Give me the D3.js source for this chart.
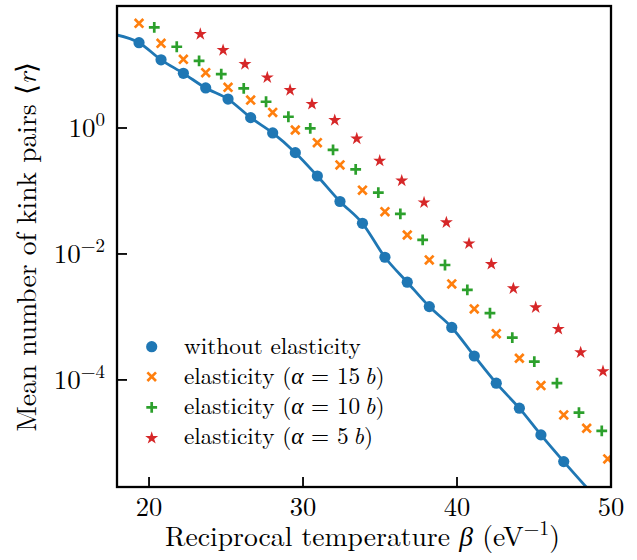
<!DOCTYPE html>
<html><head><meta charset="utf-8">
<script src="https://cdn.jsdelivr.net/npm/d3@7"></script>
<style>
html,body{margin:0;padding:0;background:#fff;}
</style></head>
<body><svg id="chart" width="637" height="560"></svg>
<script>
// ---------- data ----------
const betaA = [19.35,20.78,22.23,23.68,25.13,26.60,28.03,29.50,30.93,32.40,33.86,35.32,36.77,38.20,39.66,41.12,42.55,44.05,45.45,46.93];
const rNoElastic = [22.6,12.1,7.38,4.32,2.88,1.46,0.834,0.406,0.173,0.0681,0.0307,8.87e-3,3.56e-3,1.46e-3,6.81e-4,2.40e-4,8.87e-5,3.56e-5,1.34e-5,5.05e-6];
const betaFit = [17.9,19.35,20.78,22.23,23.68,25.13,26.60,28.03,29.50,30.93,32.40,33.86,35.32,36.77,38.20,39.66,41.12,42.55,44.05,45.45,46.93,48.6];
const rFit = [30.0,22.6,12.1,7.38,4.32,2.88,1.46,0.834,0.406,0.173,0.0681,0.0307,8.87e-3,3.56e-3,1.46e-3,6.81e-4,2.40e-4,8.87e-5,3.56e-5,1.34e-5,5.05e-6,1.75e-6];
const betaB = [19.35,20.78,22.23,23.68,25.13,26.60,28.03,29.50,30.93,32.40,33.86,35.32,36.77,38.20,39.66,41.12,42.55,44.05,45.45,46.93,48.42,49.79];
const rAlpha15 = [45.9,22.1,12.3,7.55,4.43,2.78,1.77,0.929,0.585,0.259,0.103,0.0469,0.0200,8.04e-3,3.34e-3,1.34e-3,5.43e-4,2.21e-4,8.13e-5,2.78e-5,1.71e-5,5.57e-6];
const betaC = [20.34,21.80,23.25,24.69,26.15,27.60,29.05,30.47,31.95,33.42,34.89,36.32,37.77,39.22,40.67,42.14,43.59,45.02,46.49,47.92,49.40];
const rAlpha10 = [39.6,19.5,11.6,7.19,4.27,2.61,1.51,0.989,0.448,0.221,0.0940,0.0432,0.0167,6.68e-3,2.69e-3,1.15e-3,4.68e-4,1.95e-4,8.87e-5,3.03e-5,1.55e-5];
const betaD = [21.90,23.33,24.81,26.23,27.68,29.16,30.58,32.06,33.49,34.98,36.41,37.86,39.31,40.78,42.23,43.66,45.11,46.58,48.03,49.48];
const rAlpha5 = [120,31.8,17.7,10.6,6.52,4.11,2.47,1.37,0.698,0.310,0.150,0.0676,0.0326,0.0151,7.11e-3,2.92e-3,1.46e-3,6.62e-4,2.81e-4,1.41e-4];
const xTicks = [20,30,40,50];
const yTicks = [1,1e-2,1e-4];
const yTickExp = ["0","\u22122","\u22124"];
const legendLabels = [
  [["without elasticity",""]],
  [["elasticity (",""],["\u03b1","i"],[" = 15\u2009",""],["b","i"],[")",""]],
  [["elasticity (",""],["\u03b1","i"],[" = 10\u2009",""],["b","i"],[")",""]],
  [["elasticity (",""],["\u03b1","i"],[" = 5\u2009",""],["b","i"],[")",""]]
];
const colors = ["#1f77b4","#ff7f0e","#2ca02c","#d62728"];

// ---------- layout ----------
const FONT = "'Latin Modern Roman'";
const L=117, R=611, T=6, B=487;
const svg = d3.select("#chart");
const x = d3.scaleLinear().domain([17.92,50]).range([L,R]);
const y = d3.scaleLog().domain([Math.pow(10,-5.70),Math.pow(10,1.937)]).range([B,T]);

svg.append("defs").append("clipPath").attr("id","clip")
  .append("rect").attr("x",L).attr("y",T).attr("width",R-L).attr("height",B-T);

const g = svg.append("g").attr("clip-path","url(#clip)");

g.append("path").datum(betaFit.map((b,i)=>[b,rFit[i]]))
  .attr("fill","none").attr("stroke",colors[0]).attr("stroke-width",2.8)
  .attr("d", d3.line().x(d=>x(d[0])).y(d=>y(d[1])).curve(d3.curveMonotoneX));

function drawMarker(sel, type, color){
  if(type==="o"){
    sel.append("circle").attr("r",5.6).attr("fill",color);
  } else if(type==="x"){
    const a=4.3;
    sel.append("path").attr("d",`M${-a},${-a}L${a},${a}M${-a},${a}L${a},${-a}`)
      .attr("stroke",color).attr("stroke-width",2.7).attr("fill","none");
  } else if(type==="+"){
    const a=5.4;
    sel.append("path").attr("d",`M${-a},0L${a},0M0,${-a}L0,${a}`)
      .attr("stroke",color).attr("stroke-width",2.7).attr("fill","none");
  } else {
    sel.append("path").attr("d",d3.symbol().type(d3.symbolStar).size(52)())
      .attr("fill",color).attr("transform","translate(0,0.8)");
  }
}
const series = [
  {bx:betaA, ry:rNoElastic, type:"o", c:colors[0]},
  {bx:betaB, ry:rAlpha15, type:"x", c:colors[1]},
  {bx:betaC, ry:rAlpha10, type:"+", c:colors[2]},
  {bx:betaD, ry:rAlpha5, type:"*", c:colors[3]}
];
series.forEach(s=>{
  s.bx.forEach((b,i)=>{
    const m = g.append("g").attr("transform",`translate(${x(b)},${y(s.ry[i])})`);
    drawMarker(m, s.type, s.c);
  });
});

function txt(parent){ return parent.append("text").style("font-family",FONT).attr("fill","#000"); }

const tk = svg.append("g");
xTicks.forEach(v=>{
  tk.append("line").attr("x1",x(v)).attr("x2",x(v)).attr("y1",B).attr("y2",B-10)
    .attr("stroke","#000").attr("stroke-width",1.8);
  txt(tk).attr("x",x(v)).attr("y",515.5).attr("text-anchor","middle")
    .style("font-size","26.5px").text(v);
});
yTicks.forEach((v,i)=>{
  tk.append("line").attr("x1",L).attr("x2",L+10).attr("y1",y(v)).attr("y2",y(v))
    .attr("stroke","#000").attr("stroke-width",1.8);
  const t = txt(tk).attr("x",105).attr("y",y(v)+9.3).attr("text-anchor","end")
    .style("font-size","27px");
  t.append("tspan").text("10");
  t.append("tspan").attr("dy",-11).style("font-size","19px").text(yTickExp[i]);
});

svg.append("rect").attr("x",L).attr("y",T).attr("width",R-L).attr("height",B-T)
  .attr("fill","none").attr("stroke","#000").attr("stroke-width",2.3);

const xl = txt(svg).attr("x",(165+560)/2).attr("y",546).attr("text-anchor","middle")
  .style("font-size","25px");
xl.append("tspan").text("Reciprocal temperature ");
xl.append("tspan").style("font-style","italic").text("\u03b2");
xl.append("tspan").text(" (eV");
xl.append("tspan").attr("dy",-10).style("font-size","18px").text("\u22121");
xl.append("tspan").attr("dy",10).text(")");

const yl = txt(svg).attr("transform",`translate(36,${(T+B)/2}) rotate(-90)`)
  .attr("text-anchor","middle").style("font-size","25px");
yl.append("tspan").text("Mean number of kink pairs ");
yl.append("tspan").text("\u27e8");
yl.append("tspan").style("font-style","italic").text("r");
yl.append("tspan").text("\u27e9");

function fitWidth(sel, target){
  const w = sel.node().getBBox().width;
  const fs = parseFloat(sel.style("font-size"));
  const k = target/w;
  sel.style("font-size", (fs*k)+"px");
  sel.selectAll("tspan").each(function(){
    const ts=d3.select(this);
    if(this.style.fontSize){ ts.style("font-size",(parseFloat(this.style.fontSize)*k)+"px"); }
    const dy=ts.attr("dy"); if(dy) ts.attr("dy", parseFloat(dy)*k);
  });
}
fitWidth(xl, 395);
fitWidth(yl, 370);

const legY = [346.7,376.7,407.3,437.3];
const types = ["o","x","+","*"];
const legTexts = [];
legendLabels.forEach((parts,i)=>{
  const m = svg.append("g").attr("transform",`translate(151.7,${legY[i]})`);
  drawMarker(m, types[i], colors[i]);
  const t = txt(svg).attr("x",184).attr("y",legY[i]+7).style("font-size","23px");
  parts.forEach(p=>{
    const ts=t.append("tspan").text(p[0]);
    if(p[1]==="i") ts.style("font-style","italic");
  });
  legTexts.push(t);
});
(function(){
  const w = legTexts[0].node().getBBox().width;
  const fs = 23*177/w;
  legTexts.forEach(t=>t.style("font-size",fs+"px"));
})();
</script>
</body></html>
